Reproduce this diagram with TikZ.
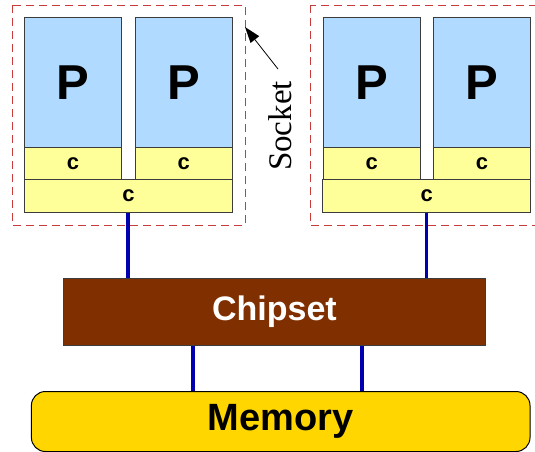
\documentclass[tikz,border=0pt]{standalone}
\usepackage{fontspec}
\setmainfont{Liberation Serif}
\setsansfont{Liberation Sans}
\usetikzlibrary{calc}
\definecolor{pblue}{RGB}{176,218,255}
\definecolor{cyel}{RGB}{255,255,153}
\definecolor{chipbrown}{RGB}{128,48,0}
\definecolor{memgold}{RGB}{255,214,0}
\definecolor{busblue}{RGB}{0,0,176}
\definecolor{sockred}{RGB}{200,60,60}
\definecolor{edgegray}{RGB}{60,60,60}
\tikzset{
  pbox/.style={draw=edgegray, line width=1pt, fill=pblue, minimum width=97pt, minimum height=130pt, inner sep=0pt, font=\sffamily\bfseries\fontsize{49}{49}\selectfont},
  cbox/.style={draw=edgegray, line width=1pt, fill=cyel, minimum width=97pt, minimum height=32pt, inner sep=0pt, font=\sffamily\bfseries\fontsize{22}{22}\selectfont},
  lcbox/.style={draw=edgegray, line width=1pt, fill=cyel, minimum width=207.6pt, minimum height=32.7pt, inner sep=0pt, font=\sffamily\bfseries\fontsize{22}{22}\selectfont},
  socket/.style={draw=sockred, line width=0.8pt, dash pattern=on 8pt off 5pt},
  bus/.style={draw=busblue, line width=3.5pt},
}
\begin{document}
\begin{tikzpicture}[x=1pt,y=-1pt]
\useasboundingbox (0,0) rectangle (535,451);
\begin{scope}
\clip (0,0) rectangle (535,451);
% sockets
\draw[socket] (12,5) rectangle (245,225);
\draw[socket] (310,5) rectangle (548,225);
% left socket
\node[pbox] (p1) at (73,82.3) {P};
\node[pbox] (p2) at (183.7,82.3) {P};
\node[cbox] (c1) at (73,163.3) {c};
\node[cbox] (c2) at (183.7,163.3) {c};
\node[lcbox] (cl) at (128.5,195.7) {c};
% right socket
\node[pbox] (p3) at (371.7,82.3) {P};
\node[pbox] (p4) at (482,82.3) {P};
\node[cbox] (c3) at (371.7,163.3) {c};
\node[cbox] (c4) at (482,163.3) {c};
\node[lcbox] (cr) at (426.7,195.7) {c};
% chipset and memory
\node[draw=edgegray, line width=1pt, fill=chipbrown, text=white, minimum width=422pt, minimum height=67pt, inner sep=0pt, font=\sffamily\bfseries\fontsize{34}{34}\selectfont] (chip) at (274.4,311.5) {Chipset};
\node[draw=black, line width=1pt, fill=memgold, rounded corners=14pt, minimum width=498.6pt, minimum height=60pt, inner sep=0pt, font=\sffamily\bfseries\fontsize{38}{38}\selectfont] (mem) at (280.7,421.5) {Memory};
% buses
\coordinate (b1) at (128,212);
\coordinate (b2) at (426.7,212);
\draw[bus] (cl.south -| b1) -- (chip.north -| b1);
\draw[bus] (cr.south -| b2) -- (chip.north -| b2);
\coordinate (b3) at (193,345);
\coordinate (b4) at (362,345);
\draw[bus] (chip.south -| b3) -- (mem.north -| b3);
\draw[bus] (chip.south -| b4) -- (mem.north -| b4);
% label
\node[rotate=90, font=\fontsize{33}{33}\selectfont, inner sep=1pt] (lbl) at (280,126) {Socket};
\coordinate (tip) at (245,27);
\coordinate (tail) at (278,69);
\coordinate (base) at ($(tip)!16pt!(tail)$);
\draw[line width=0.8pt] (tail) -- (base);
\fill (tip) -- ($(base)!5.5pt!90:(tip)$) -- ($(base)!5.5pt!-90:(tip)$) -- cycle;
\end{scope}
\end{tikzpicture}
\end{document}
